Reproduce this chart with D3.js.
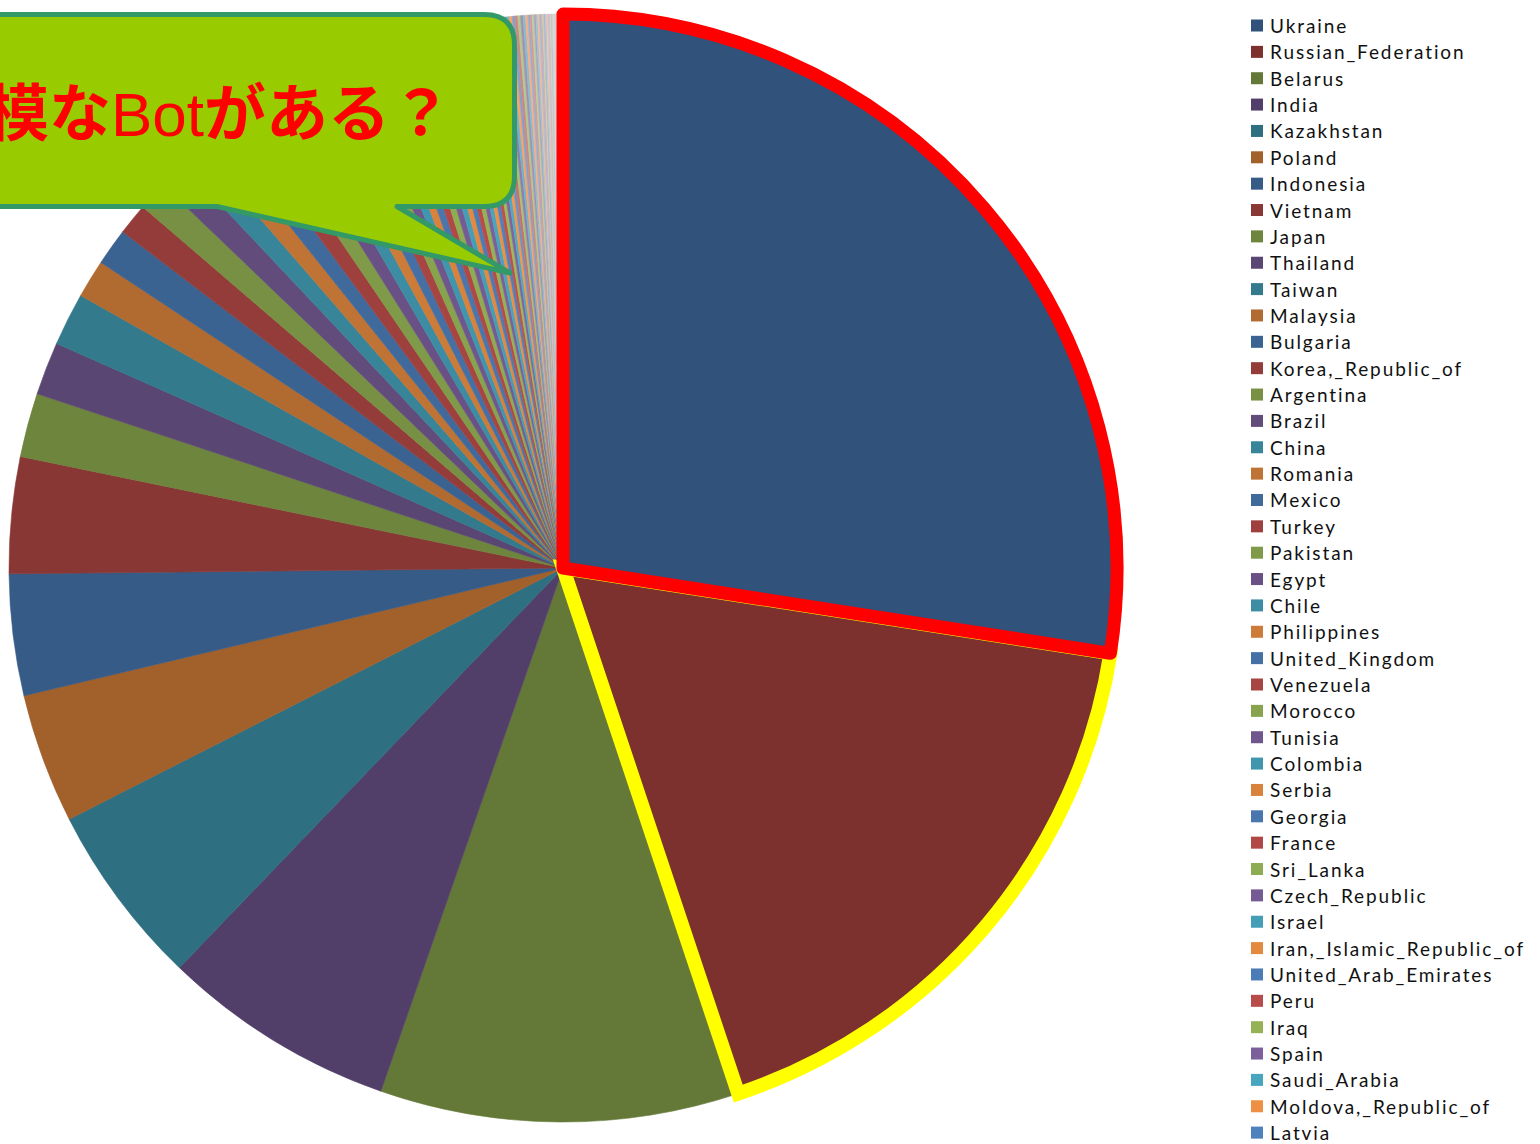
<!DOCTYPE html>
<html><head><meta charset="utf-8">
<script src="https://cdn.jsdelivr.net/npm/d3@7"></script>
<style>html,body{margin:0;padding:0;background:#fff;overflow:hidden}</style>
</head><body>
<svg id="chart" width="1540" height="1144"></svg>
<script>
// ---- data (share of bot hosts by country, %) ----
const countries = [
 "Ukraine","Russian_Federation","Belarus","India","Kazakhstan","Poland","Indonesia","Vietnam",
 "Japan","Thailand","Taiwan","Malaysia","Bulgaria","Korea,_Republic_of","Argentina","Brazil",
 "China","Romania","Mexico","Turkey","Pakistan","Egypt","Chile","Philippines","United_Kingdom",
 "Venezuela","Morocco","Tunisia","Colombia","Serbia","Georgia","France","Sri_Lanka",
 "Czech_Republic","Israel","Iran,_Islamic_Republic_of","United_Arab_Emirates","Peru","Iraq",
 "Spain","Saudi_Arabia","Moldova,_Republic_of","Latvia",
 "Lithuania","Hungary","Kyrgyzstan","Armenia","Azerbaijan","Estonia","Germany","Italy",
 "United_States","Bangladesh","Algeria","Uzbekistan","Ecuador","Greece","Slovakia","Croatia",
 "Macedonia","Bosnia_and_Herzegovina","South_Africa","Netherlands","Portugal","Jordan","Lebanon",
 "Nepal","Mongolia","Canada","Hong_Kong","Singapore","Syrian_Arab_Republic","Nigeria","Kenya",
 "Uruguay","Bolivia","Paraguay","Dominican_Republic","Costa_Rica","Guatemala","Panama",
 "El_Salvador","Australia","Albania","Montenegro","Slovenia","Cyprus","Tajikistan"
];
const shares = [
 27.42,17.39,10.44,6.83,5.33,3.78,3.53,3.39,
 1.86,1.55,1.54,1.11,1.08,0.92,0.86,0.81,
 0.66,0.63,0.62,0.61,0.58,0.53,0.47,0.44,0.42,
 0.39,0.36,0.33,0.31,0.29,0.28,0.26,0.25,
 0.24,0.22,0.21,0.19,0.19,0.18,
 0.17,0.17,0.16,0.15,
 0.14,0.13,0.13,0.12,0.12,0.11,0.11,0.10,
 0.10,0.09,0.09,0.08,0.08,0.08,0.07,0.07,
 0.07,0.06,0.06,0.06,0.05,0.05,0.05,
 0.05,0.04,0.04,0.04,0.04,0.04,0.03,0.03,
 0.03,0.03,0.03,0.03,0.03,0.03,0.03,
 0.03,0.03,0.02,0.02,0.02,0.02,0.02
];
const accentColors = ["#4F81BD","#C0504D","#9BBB59","#8064A2","#4BACC6","#F79646"];
const calloutParts = ["大規模な","Bot","がある？"];

// ---- colours: Office accent cycle, shaded dark -> tinted light per cycle ----
function toLin(c){c/=255;return c<=0.04045?c/12.92:Math.pow((c+0.055)/1.055,2.4);}
function toS(l){const v=l<=0.0031308?l*12.92:1.055*Math.pow(l,1/2.4)-0.055;return Math.round(Math.max(0,Math.min(1,v))*255);}
const nCycles = Math.ceil(countries.length/accentColors.length);
function sliceColor(i){
  const base = d3.rgb(accentColors[i%accentColors.length]);
  const k = Math.floor(i/accentColors.length);
  const s = (k+1)/(nCycles+1)*1.4-0.7;
  const f = c => { let l=toLin(c); l = s<0 ? l*(1+s) : l*(1-s)+s; return toS(l); };
  return d3.rgb(f(base.r),f(base.g),f(base.b)).formatHex();
}

const data = countries.map((c,i)=>({name:c, v:shares[i], color:sliceColor(i), i}));

const svg = d3.select("#chart");
const cx = 563, cy = 568, R = 554;

const pie = d3.pie().sort(null).value(d=>d.v);
const arcs = pie(data);
const arc = d3.arc().innerRadius(0).outerRadius(R);

const g = svg.append("g").attr("transform",`translate(${cx},${cy})`);
g.selectAll("path.slice").data(arcs.filter(a=>a.data.i>=2)).join("path")
  .attr("class","slice").attr("d",arc)
  .attr("fill",d=>d.data.color).attr("stroke",d=>d.data.color).attr("stroke-width",0.6);

// highlighted slices
g.append("path").datum(arcs[1]).attr("d",arc)
  .attr("fill",arcs[1].data.color).attr("stroke","#FFFF00").attr("stroke-width",14)
  .attr("stroke-linejoin","miter");
g.append("path").datum(arcs[0]).attr("d",arc)
  .attr("fill",arcs[0].data.color).attr("stroke","#FF0000").attr("stroke-width",13)
  .attr("stroke-linejoin","round");

// ---- legend (continues past the bottom edge, as in the original) ----
const lg = svg.append("g");
const rowY = i => 26 + i*26.36;
const items = lg.selectAll("g").data(data).join("g")
  .attr("transform",(d,i)=>`translate(1251,${rowY(i)})`);
items.append("rect").attr("x",0).attr("y",-6.5).attr("width",12).attr("height",12).attr("fill",d=>d.color);
items.append("text").attr("x",19).attr("y",7)
  .attr("font-family","Lato, 'Open Sans', sans-serif").attr("font-size",19)
  .attr("letter-spacing",1.9).attr("fill","#111").text(d=>d.name);

// ---- callout ----
const co = svg.append("g");
co.append("path")
  .attr("d","M -60 14.5 H 484 Q 514.5 14.5 514.5 45 V 176 Q 514.5 206.5 484 206.5 H 397 L 510 273 L 217 206.5 H -60 Z")
  .attr("fill","#99CC00").attr("stroke","#339966").attr("stroke-width",5).attr("stroke-linejoin","round");
const t = co.append("text").attr("x",452).attr("y",136).attr("text-anchor","end")
  .attr("fill","#FF0000").attr("font-size",62);
t.append("tspan").attr("font-family","'Noto Sans CJK JP'").attr("font-weight",700).text(calloutParts[0]);
t.append("tspan").attr("font-family","'Liberation Sans', Arial, sans-serif").attr("font-weight",400).text(calloutParts[1]);
t.append("tspan").attr("font-family","'Noto Sans CJK JP'").attr("font-weight",700).text(calloutParts[2]);
</script>
</body></html>
